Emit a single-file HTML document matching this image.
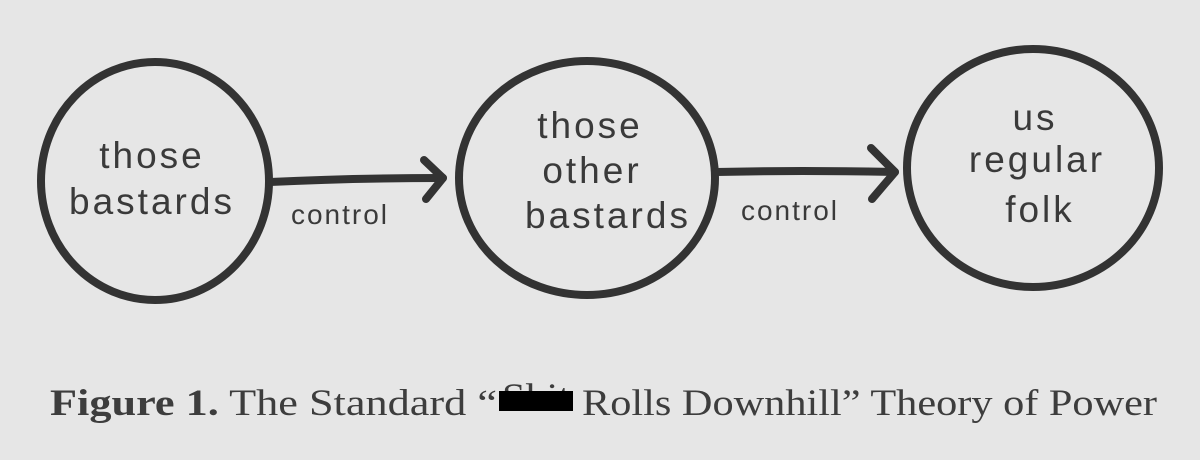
<!DOCTYPE html>
<html><head><meta charset="utf-8"><style>
html,body{margin:0;padding:0;background:#e6e6e6;}
svg{display:block;}
.h{font-family:"Liberation Sans","DejaVu Sans",sans-serif;fill:#3a3a3a;font-size:37px;letter-spacing:3px;text-anchor:middle;}
.c{font-family:"Liberation Sans","DejaVu Sans",sans-serif;fill:#3a3a3a;font-size:28px;letter-spacing:2px;text-anchor:middle;}
.cap{font-family:"Liberation Serif",serif;fill:#3d3d3d;font-size:37px;}
</style></head><body>
<svg width="1200" height="460" viewBox="0 0 1200 460">
<rect width="1200" height="460" fill="#e6e6e6"/>
<g fill="none" stroke="#333" stroke-width="8" stroke-linecap="round" stroke-linejoin="round">
<ellipse cx="155" cy="181" rx="114" ry="119"/>
<ellipse cx="587" cy="178" rx="128" ry="117"/>
<ellipse cx="1033" cy="168" rx="126" ry="119"/>
<path d="M270 182 Q350 178 443 178"/>
<path d="M424 160 L443 178 L426 199"/>
<path d="M716 172 Q800 170 895 172"/>
<path d="M871 148 L895 172 L872 199"/>
</g>
<text class="h" x="152" y="168">those</text>
<text class="h" x="152" y="214">bastards</text>
<text class="c" x="340" y="224">control</text>
<text class="h" x="590" y="138">those</text>
<text class="h" x="592" y="183">other</text>
<text class="h" x="608" y="228">bastards</text>
<text class="c" x="790" y="220">control</text>
<text class="h" x="1035" y="130">us</text>
<text class="h" x="1037" y="172">regular</text>
<text class="h" x="1040" y="222">folk</text>
<text class="cap" x="50" y="415" textLength="447" lengthAdjust="spacingAndGlyphs"><tspan font-weight="bold">Figure 1.</tspan> The Standard “</text>
<text class="cap" x="502" y="409" font-size="22" fill="#000" textLength="68" lengthAdjust="spacingAndGlyphs">Shit</text>
<rect x="499" y="391" width="74" height="20" fill="#000"/>
<text class="cap" x="582" y="415" textLength="575" lengthAdjust="spacingAndGlyphs">Rolls Downhill” Theory of Power</text>
</svg>
</body></html>
